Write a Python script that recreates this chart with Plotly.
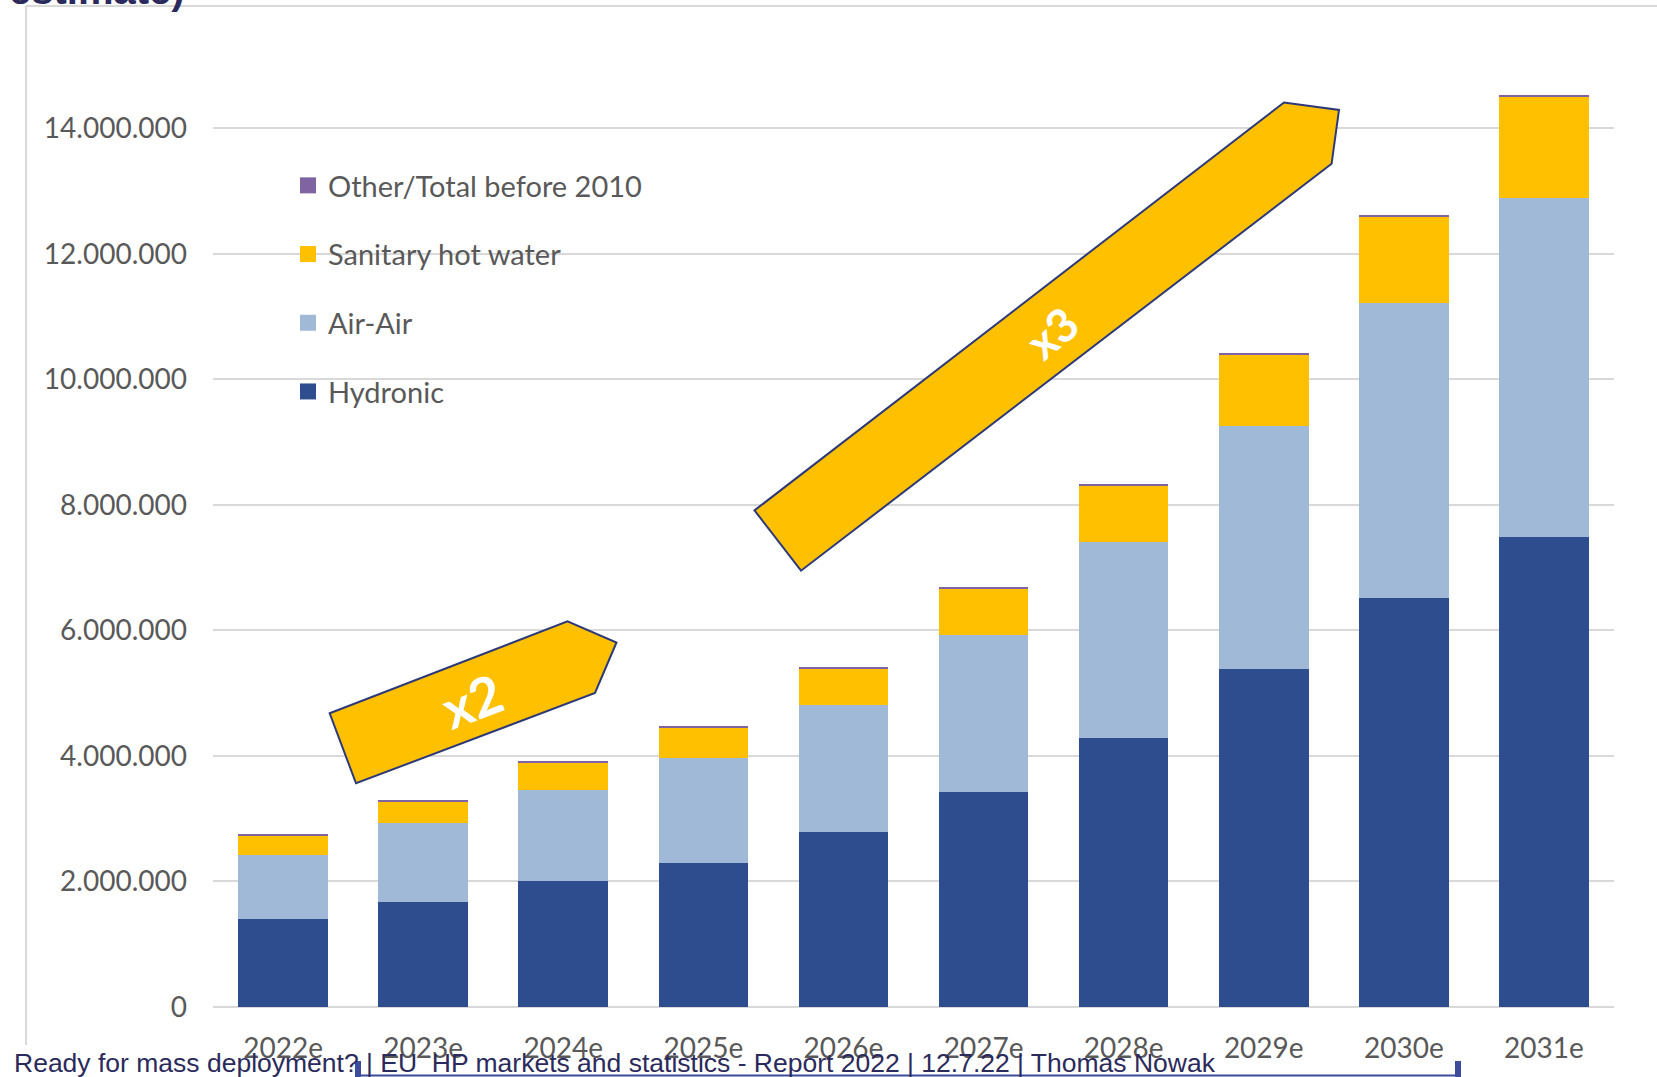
import plotly.graph_objects as go

# ---------------- data ----------------
years = ["2022e", "2023e", "2024e", "2025e", "2026e", "2027e", "2028e", "2029e", "2030e", "2031e"]
hydronic = [1400000, 1680000, 2000000, 2290000, 2780000, 3430000, 4290000, 5380000, 6510000, 7490000]
air_air = [1020000, 1250000, 1450000, 1680000, 2030000, 2490000, 3110000, 3870000, 4700000, 5400000]
sanitary_hot_water = [310000, 350000, 440000, 490000, 590000, 740000, 910000, 1150000, 1390000, 1610000]
other = [15000, 15000, 15000, 15000, 15000, 15000, 15000, 15000, 15000, 15000]
y_ticks = [0, 2000000, 4000000, 6000000, 8000000, 10000000, 12000000, 14000000]

series = [
    ("Hydronic", hydronic, "#2E4D8E"),
    ("Air-Air", air_air, "#A0B9D6"),
    ("Sanitary hot water", sanitary_hot_water, "#FFC000"),
    ("Other/Total before 2010", other, "#8064A2"),
]

# ---------------- layout geometry (pixels) ----------------
W, H = 1657, 1077
L, R, T, B = 213, 1614, 34, 1007


def px(x):
    return (x - L) / (R - L)


def py(y):
    return (B - y) / (B - T)


fig = go.Figure()
for name, vals, col in series:
    fig.add_trace(go.Bar(x=years, y=vals, name=name, marker=dict(color=col, line=dict(width=0)),
                         showlegend=False))
# legend entries (square symbols), top entry first
for name, vals, col in reversed(series):
    fig.add_trace(go.Scatter(x=[None], y=[None], mode="markers", name=name, legendgroup=name,
                             marker=dict(symbol="square", size=16, color=col)))

navy = "#2E3A78"
arrow_x2 = [(329.7, 713.3), (567.5, 621.4), (616.5, 642.5), (595.0, 693.0), (356.0, 783.3)]
arrow_x3 = [(754.5, 510.4), (1284.0, 102.5), (1339.0, 109.9), (1331.6, 163.8), (801.0, 570.7)]


def path(pts):
    return "M " + " L ".join(f"{px(x):.5f},{py(y):.5f}" for x, y in pts) + " Z"


shapes = [
    # white block hiding gridlines behind legend
    dict(type="rect", xref="paper", yref="paper", x0=px(L), x1=px(670), y0=py(420), y1=py(150),
         fillcolor="white", line=dict(width=0), layer="between"),
    # chart frame
    dict(type="line", xref="paper", yref="paper", x0=px(26), x1=px(26), y0=py(6), y1=py(1045),
         line=dict(color="#D9D9D9", width=2)),
    dict(type="line", xref="paper", yref="paper", x0=px(26), x1=px(1660), y0=py(6), y1=py(6),
         line=dict(color="#D9D9D9", width=2)),
    # arrows
    dict(type="path", xref="paper", yref="paper", path=path(arrow_x2), fillcolor="#FFC000",
         line=dict(color=navy, width=2), layer="above"),
    dict(type="path", xref="paper", yref="paper", path=path(arrow_x3), fillcolor="#FFC000",
         line=dict(color=navy, width=2), layer="above"),
    # footer bracket
    dict(type="line", xref="paper", yref="paper", x0=px(358), x1=px(358), y0=py(1061), y1=py(1080),
         line=dict(color="#3E4C9C", width=6)),
    dict(type="line", xref="paper", yref="paper", x0=px(1458), x1=px(1458), y0=py(1061), y1=py(1080),
         line=dict(color="#3E4C9C", width=6)),
    dict(type="line", xref="paper", yref="paper", x0=px(358), x1=px(1458), y0=py(1075.5), y1=py(1075.5),
         line=dict(color="#3E4C9C", width=2)),
]

annotations = [
    dict(text="x2", xref="paper", yref="paper", x=px(472), y=py(700), showarrow=False,
         textangle=-21, font=dict(family="Lato", size=54, color="white", weight="bold"),
         xanchor="center", yanchor="middle"),
    dict(text="x3", xref="paper", yref="paper", x=px(1052), y=py(333), showarrow=False,
         textangle=-40, font=dict(family="Lato", size=46, color="white", weight="bold"),
         xanchor="center", yanchor="middle"),
    dict(text="estimate)", xref="paper", yref="paper", x=px(187), y=py(-10), showarrow=False,
         font=dict(family="Liberation Sans", size=40, color="#2B2A5C", weight="bold"),
         xanchor="right", yanchor="middle"),
    dict(text="Ready for mass deployment? | EU  HP markets and statistics - Report 2022 | 12.7.22 | Thomas Nowak",
         xref="paper", yref="paper", x=px(12), y=py(1063), showarrow=False,
         font=dict(family="Liberation Sans", size=26.5, color="#2B2A5C"),
         xanchor="left", yanchor="middle"),
]

fig.update_layout(
    width=W, height=H,
    margin=dict(l=L, r=W - R, t=T, b=H - B, pad=0),
    barmode="stack", bargap=0.36,
    plot_bgcolor="white", paper_bgcolor="white",
    separators=",.",
    font=dict(family="Lato", size=28, color="#595959"),
    legend=dict(x=px(288), y=py(160), xanchor="left", yanchor="top", traceorder="grouped",
                tracegroupgap=28, bgcolor="rgba(0,0,0,0)", font=dict(family="Lato", size=29, color="#595959")),
    shapes=shapes, annotations=annotations,
    xaxis=dict(showgrid=False, showline=False, ticks="", ticklabelstandoff=22,
               tickfont=dict(family="Lato", size=28, color="#595959")),
    yaxis=dict(range=[0, 15500000], tickvals=y_ticks, tickformat=",.0f", showgrid=True,
               gridcolor="#D9D9D9", gridwidth=2, zeroline=True, zerolinecolor="#D9D9D9", zerolinewidth=2,
               showline=False, ticks="", ticklabelstandoff=25,
               tickfont=dict(family="Lato", size=28, color="#595959")),
)

fig.write_html("out.html", config={"displayModeBar": False},
               post_script="document.body.style.margin='0';document.body.style.overflow='hidden';")
